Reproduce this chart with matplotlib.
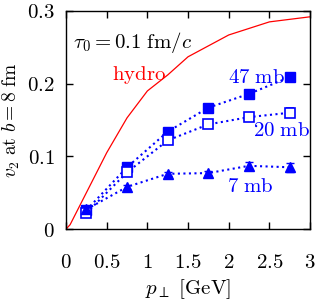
import numpy as np
import matplotlib
matplotlib.use("Agg")
import matplotlib.pyplot as plt

plt.rcParams['mathtext.fontset'] = 'cm'
plt.rcParams['font.family'] = 'serif'
plt.rcParams['font.serif'] = ['DejaVu Serif']

# hydro curve
p_hydro = [0.0, 0.05, 0.5, 0.75, 1.0, 1.25, 1.5, 2.0, 2.5, 3.0]
v_hydro = [0.0, 0.006, 0.105, 0.153, 0.19, 0.212, 0.237, 0.267, 0.285, 0.292]

# parton cascade points
pt = [0.25, 0.75, 1.25, 1.75, 2.25, 2.75]
v2_47 = [0.026, 0.085, 0.134, 0.167, 0.186, 0.209]
err_47 = [0.003, 0.004, 0.004, 0.004, 0.005, 0.006]
v2_20 = [0.022, 0.078, 0.122, 0.144, 0.154, 0.160]
err_20 = [0.003, 0.004, 0.004, 0.004, 0.005, 0.006]
v2_7 = [0.027, 0.058, 0.076, 0.077, 0.087, 0.085]
err_7 = [0.002, 0.003, 0.003, 0.003, 0.005, 0.006]

xticks = [0, 0.5, 1, 1.5, 2, 2.5, 3]
xticklabels = ['$0$', '$0.5$', '$1$', '$1.5$', '$2$', '$2.5$', '$3$']
yticks = [0, 0.1, 0.2, 0.3]
yticklabels = ['$0$', '$0.1$', '$0.2$', '$0.3$']

blue = '#0000ff'

fig = plt.figure(figsize=(3.19, 3.05), dpi=100)
ax = fig.add_axes([0.207, 0.249, 0.765, 0.715])

ax.plot(p_hydro, v_hydro, color='#ff0000', lw=0.9)

ax.errorbar(pt, v2_47, yerr=err_47, color=blue, ls=':', lw=1.5, marker='s',
            ms=6.5, mfc=blue, mec=blue, capsize=3, elinewidth=1)
ax.errorbar(pt, v2_20, yerr=err_20, color=blue, ls=':', lw=1.5, marker='s',
            ms=6.5, mfc='white', mec=blue, mew=1.2, capsize=3, elinewidth=1)
ax.errorbar(pt, v2_7, yerr=err_7, color=blue, ls=':', lw=1.5, marker='^',
            ms=6.5, mfc=blue, mec=blue, capsize=3, elinewidth=1)

fs = 15
ax.text(0.09, 0.257, r'$\tau_0 = 0.1\ \mathrm{fm}/c$', fontsize=fs, va='center')
ax.text(0.57, 0.212, r'$\mathrm{hydro}$', color='#ff0000', fontsize=fs, va='center')
ax.text(1.99, 0.208, r'$\mathrm{47\ mb}$', color=blue, fontsize=fs, va='center')
ax.text(2.3, 0.135, r'$\mathrm{20\ mb}$', color=blue, fontsize=fs, va='center')
ax.text(1.98, 0.059, r'$\mathrm{7\ mb}$', color=blue, fontsize=fs, va='center')

ax.set_xlim(0, 3)
ax.set_ylim(0, 0.3)
ax.set_xticks(xticks)
ax.set_xticklabels(xticklabels, fontsize=fs)
ax.set_yticks(yticks)
ax.set_yticklabels(yticklabels, fontsize=fs)
ax.tick_params(axis='x', direction='in', top=True, length=5, width=1, pad=17)
ax.tick_params(axis='y', direction='in', right=True, length=5, width=1, pad=8)
for s in ax.spines.values():
    s.set_linewidth(1)

ax.set_xlabel(r'$p_\perp\ [\mathrm{GeV}]$', fontsize=fs, labelpad=4)
ax.set_ylabel(r'$v_2\ \mathrm{at}\ b = 8\ \mathrm{fm}$', fontsize=14)
ax.yaxis.set_label_coords(-0.18, 0.5)

fig.savefig('out.png', dpi=100)
